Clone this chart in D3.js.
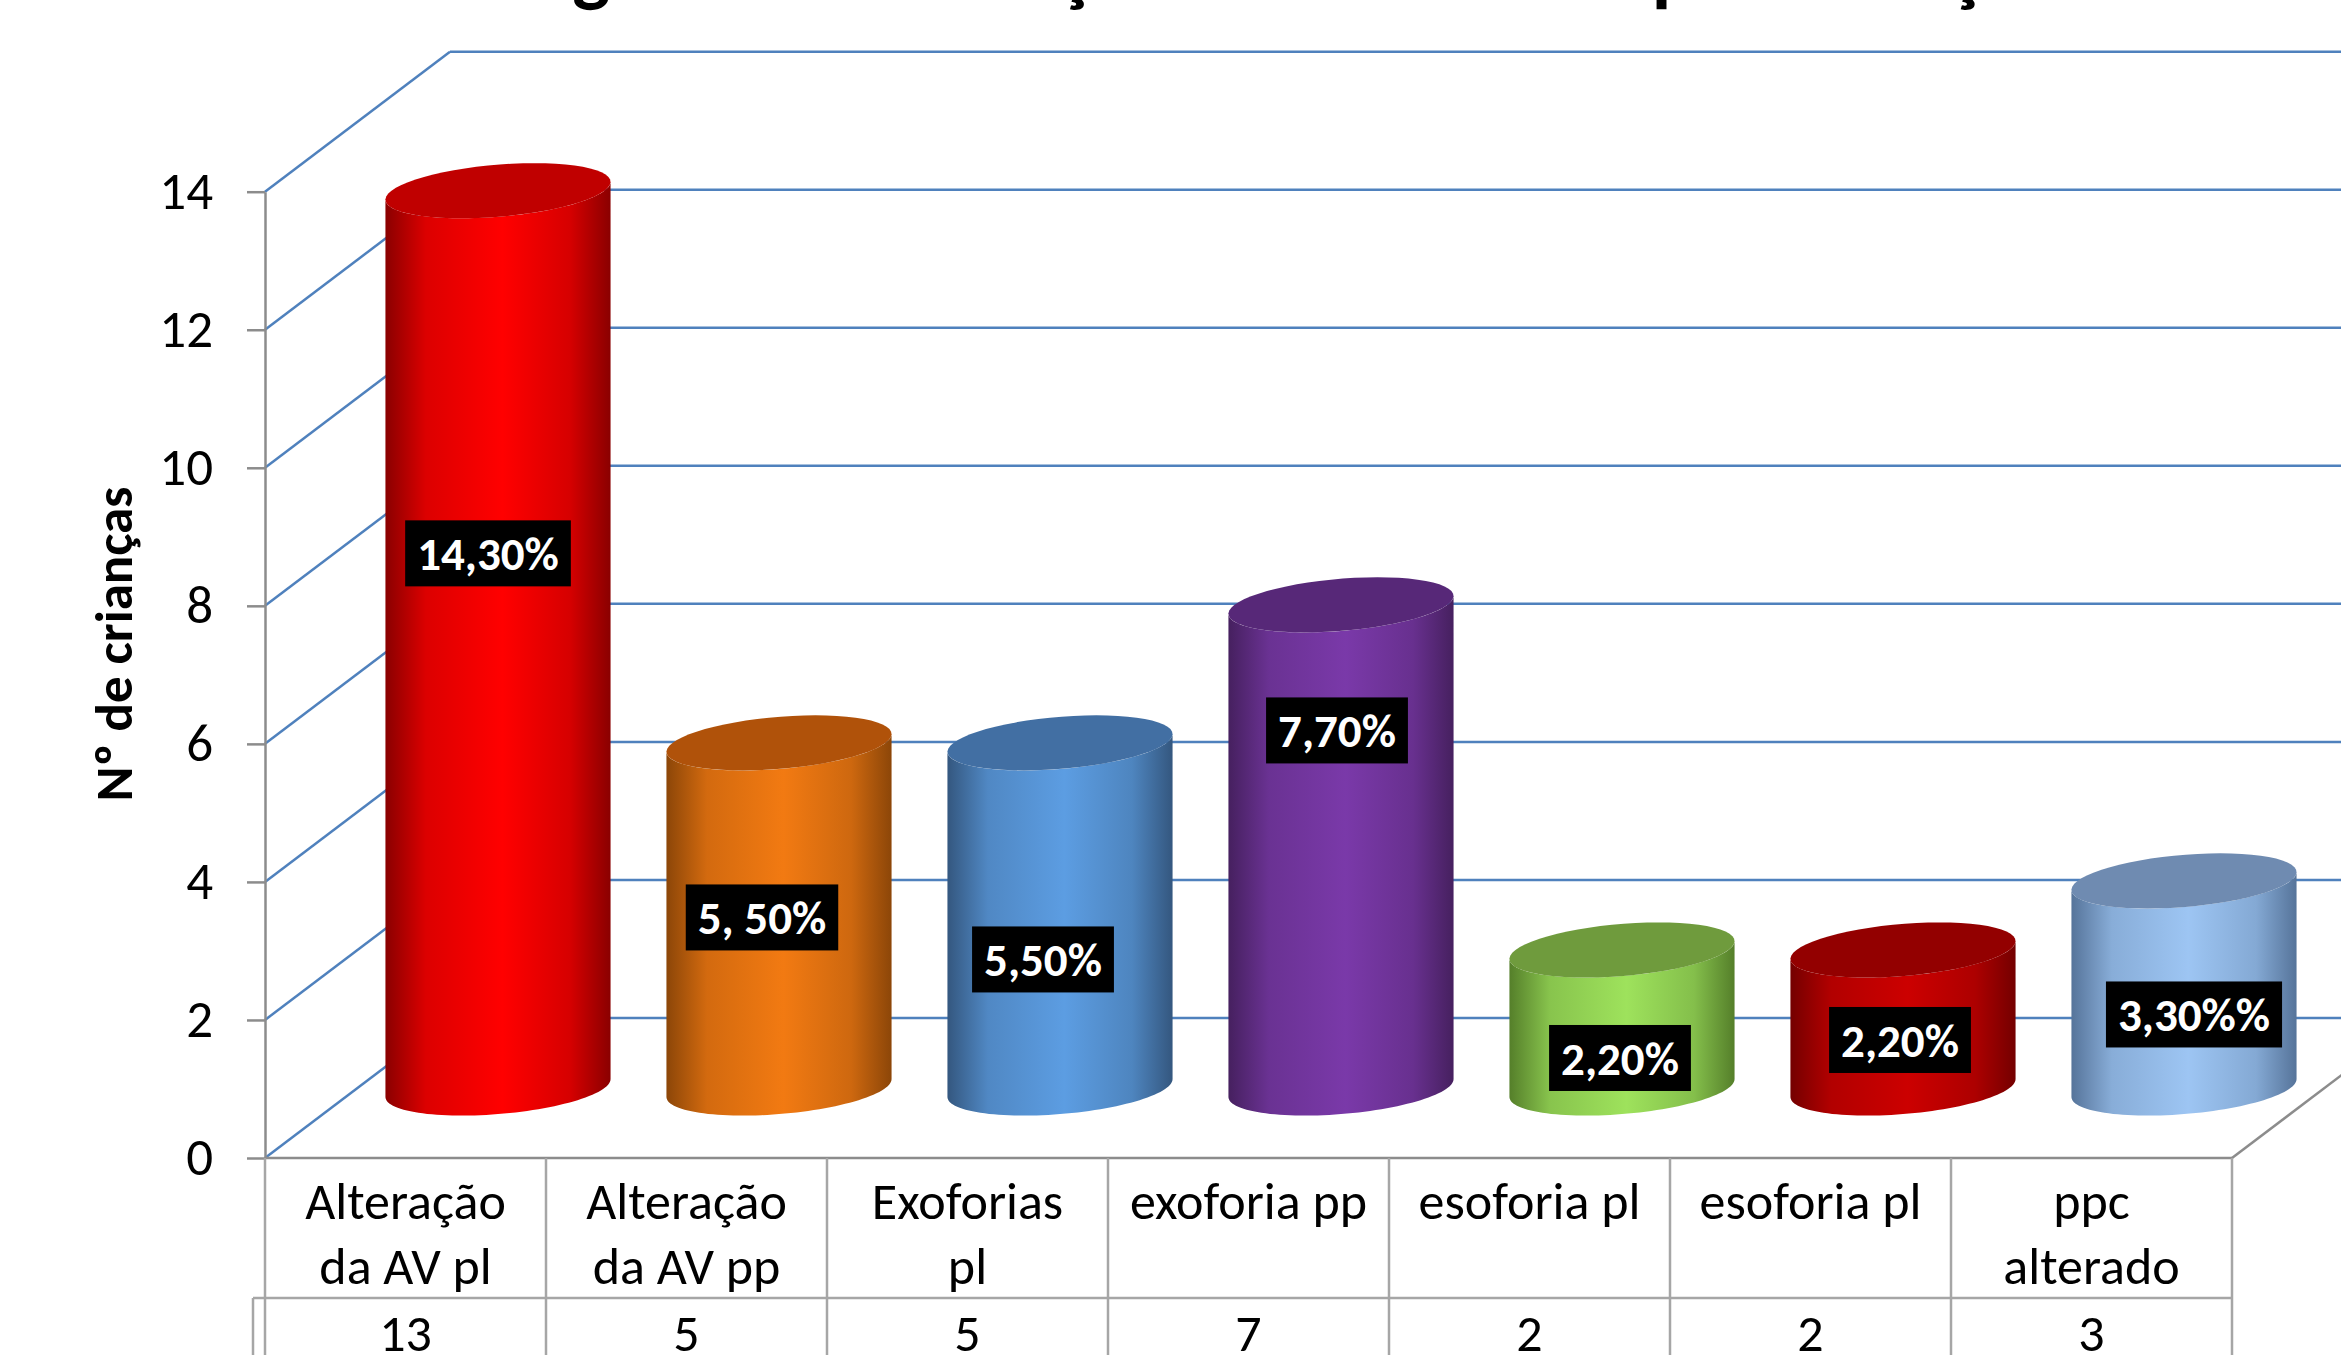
<!DOCTYPE html>
<html>
<head>
<meta charset="utf-8">
<script src="https://cdn.jsdelivr.net/npm/d3@7"></script>
<style>
body { margin: 0; background: #fff; }
svg { display: block; font-family: Carlito, Calibri, Lato, sans-serif; }
</style>
</head>
<body>
<svg id="chart" width="2341" height="1355"></svg>
<script>
// chart data
var title = "Triagem das alterações encontradas por criança";
var yTitle = "Nº de crianças";
var categories = ["Alteração\nda AV pl", "Alteração\nda AV pp", "Exoforias\npl", "exoforia pp", "esoforia pl", "esoforia pl", "ppc\nalterado"];
var values = [13, 5, 5, 7, 2, 2, 3];
var percentLabels = ["14,30%", "5, 50%", "5,50%", "7,70%", "2,20%", "2,20%", "3,30%%"];
var yTicks = [0, 2, 4, 6, 8, 10, 12, 14];

// bar looks: edge, centre, top
var barColors = [
	["#8a0000", "#ff0000", "#c00000"],
	["#8c4608", "#f27a12", "#b0520a"],
	["#34577f", "#5c9de2", "#426fa3"],
	["#46205f", "#7a39a9", "#572878"],
	["#557f2a", "#9ee25c", "#6f9b3d"],
	["#740000", "#cc0000", "#930000"],
	["#56749a", "#9dc5f3", "#6f8bb1"]
];
// hand-dragged label positions in the original, px from bar middle
var labelNudge = [[-10, -86], [-17, 2], [-17, 44], [-4, -116], [-2, 39], [-3, 21], [10, 30]];

var svg = d3.select('#chart');
var x = d3.scaleBand().domain(d3.range(categories.length)).range([265, 2232]);
var y = d3.scaleLinear().domain([0, 14]).range([1158, 191.7]);
var depth = {x: 185, y: -140};
var blue = '#4f81bd', gray = '#8c8c8c', tableGray = '#a6a6a6';

// title (cut off by the top edge)
svg.append('text').attr('x', 1235).attr('y', -4).style('text-anchor', 'middle')
	.style('font-size', '80px').style('font-weight', 'bold').text(title);

// back wall and side wall gridlines
svg.selectAll('.backGrid').data(yTicks).enter().append('line').attr('class', 'backGrid')
	.attr('x1', x.range()[0] + depth.x).attr('x2', x.range()[1] + depth.x)
	.attr('y1', function(d) { return y(d) + depth.y; }).attr('y2', function(d) { return y(d) + depth.y; })
	.style('stroke', blue).style('stroke-width', 2.5);
svg.selectAll('.sideGrid').data(yTicks).enter().append('line').attr('class', 'sideGrid')
	.attr('x1', x.range()[0]).attr('x2', x.range()[0] + depth.x)
	.attr('y1', function(d) { return y(d); }).attr('y2', function(d) { return y(d) + depth.y; })
	.style('stroke', blue).style('stroke-width', 2.5);
svg.append('line').attr('x1', x.range()[1]).attr('y1', y(0)).attr('x2', x.range()[1] + depth.x).attr('y2', y(0) + depth.y)
	.style('stroke', gray).style('stroke-width', 2.5);

// cylinders
var defs = svg.append('defs');
barColors.forEach(function(c, i) {
	var grad = defs.append('linearGradient').attr('id', 'bar' + i).attr('x1', '0').attr('x2', '1').attr('y1', '0').attr('y2', '0');
	grad.append('stop').attr('offset', '0%').attr('stop-color', c[0]);
	grad.append('stop').attr('offset', '18%').attr('stop-color', d3.interpolateRgb(c[0], c[1])(0.7));
	grad.append('stop').attr('offset', '52%').attr('stop-color', c[1]);
	grad.append('stop').attr('offset', '82%').attr('stop-color', d3.interpolateRgb(c[0], c[1])(0.65));
	grad.append('stop').attr('offset', '100%').attr('stop-color', c[0]);
});

var dLen = Math.sqrt(depth.x * depth.x + depth.y * depth.y),
	ux = depth.x / dLen, uy = depth.y / dLen,
	ra = x.bandwidth() * 0.379, rb = dLen * 0.197,
	t0 = Math.atan2(rb * ux, ra);

function ellipsePoint(cx, cy, t) {
	return [cx + ra * Math.cos(t) + rb * ux * Math.sin(t), cy + rb * uy * Math.sin(t)];
}
function arc(cx, cy, from, to) {
	var pts = [];
	for (var k = 0; k <= 60; k++) pts.push(ellipsePoint(cx, cy, from + (to - from) * k / 60));
	return pts;
}

var bars = svg.selectAll('.bar').data(values).enter().append('g').attr('class', 'bar');
bars.append('path').attr('d', function(d, i) {
	var cx = x(i) + x.bandwidth() / 2 + depth.x / 2,
		yb = y(0) + depth.y / 2, yt = y(d) + depth.y / 2;
	var pts = arc(cx, yb, t0, t0 - Math.PI).concat(arc(cx, yt, t0 - Math.PI, t0));
	return d3.line()(pts) + 'Z';
}).style('fill', function(d, i) { return 'url(#bar' + i + ')'; });
bars.append('path').attr('d', function(d, i) {
	var cx = x(i) + x.bandwidth() / 2 + depth.x / 2, yt = y(d) + depth.y / 2;
	return d3.line()(arc(cx, yt, 0, 2 * Math.PI)) + 'Z';
}).style('fill', function(d, i) { return barColors[i][2]; });

// data labels
var labels = svg.selectAll('.dataLabel').data(values).enter().append('g').attr('class', 'dataLabel')
	.attr('transform', function(d, i) {
		var cx = x(i) + x.bandwidth() / 2 + depth.x / 2 + labelNudge[i][0],
			cy = (y(0) + y(d)) / 2 + depth.y / 2 + labelNudge[i][1];
		return 'translate(' + cx + ',' + cy + ')';
	});
var labelRects = labels.append('rect').style('fill', '#000');
var labelTexts = labels.append('text').attr('dy', '0.36em').style('text-anchor', 'middle').style('fill', '#fff')
	.style('font-size', '47px').style('font-weight', 'bold').text(function(d, i) { return percentLabels[i]; });
labelRects.each(function(d, i) {
	var w = labelTexts.nodes()[i].getComputedTextLength() + 24;
	d3.select(this).attr('x', -w / 2).attr('y', -33).attr('width', w).attr('height', 66);
});

// y axis
var yAxis = svg.append('g').attr('transform', 'translate(' + x.range()[0] + ',0)')
	.call(d3.axisLeft(y).tickValues(yTicks).tickSize(18).tickSizeOuter(0).tickPadding(34));
yAxis.select('.domain').style('stroke', gray).style('stroke-width', 2.5);
yAxis.selectAll('.tick line').style('stroke', gray).style('stroke-width', 2.5);
yAxis.selectAll('.tick text').style('font-size', '53px').style('fill', '#000').style('font-family', 'Carlito, Calibri, Lato, sans-serif');

svg.append('text').attr('transform', 'translate(132,644) rotate(-90)').style('text-anchor', 'middle')
	.style('font-size', '53px').style('font-weight', 'bold').text(yTitle);

// data table under the floor
var rowTop = y(0), rowMid = 1298;
svg.append('line').attr('x1', x.range()[0]).attr('x2', x.range()[1]).attr('y1', rowTop).attr('y2', rowTop)
	.style('stroke', gray).style('stroke-width', 2.5);
svg.append('line').attr('x1', 253).attr('x2', x.range()[1]).attr('y1', rowMid).attr('y2', rowMid)
	.style('stroke', tableGray).style('stroke-width', 2.5);
svg.append('line').attr('x1', 253).attr('x2', 253).attr('y1', rowMid).attr('y2', 1355)
	.style('stroke', tableGray).style('stroke-width', 2.5);
svg.selectAll('.colLine').data(d3.range(categories.length + 1)).enter().append('line').attr('class', 'colLine')
	.attr('x1', function(d) { return d < categories.length ? x(d) : x.range()[1]; })
	.attr('x2', function(d) { return d < categories.length ? x(d) : x.range()[1]; })
	.attr('y1', rowTop).attr('y2', 1355)
	.style('stroke', tableGray).style('stroke-width', 2.5);

var catText = svg.selectAll('.catLabel').data(categories).enter().append('text').attr('class', 'catLabel')
	.style('text-anchor', 'middle').style('font-size', '52px');
catText.selectAll('tspan').data(function(d, i) { return d.split('\n').map(function(s) { return {s: s, i: i}; }); })
	.enter().append('tspan')
	.attr('x', function(d) { return x(d.i) + x.bandwidth() / 2; })
	.attr('y', function(d, k) { return 1219 + k * 65; })
	.text(function(d) { return d.s; });

svg.selectAll('.valText').data(values).enter().append('text').attr('class', 'valText')
	.attr('x', function(d, i) { return x(i) + x.bandwidth() / 2; }).attr('y', 1351)
	.style('text-anchor', 'middle').style('font-size', '52px').text(function(d) { return d; });
</script>
</body>
</html>
